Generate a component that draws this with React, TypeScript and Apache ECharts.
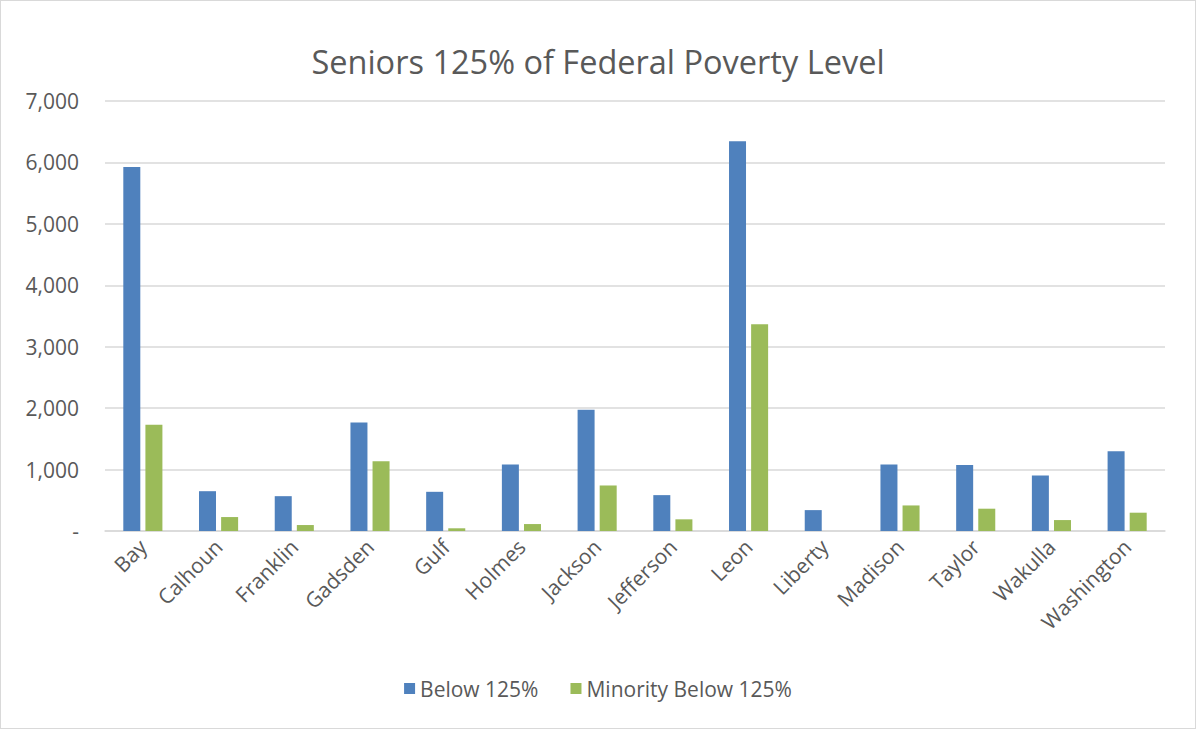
import React, { useEffect, useRef } from "react";
import * as echarts from "echarts";

const categories = ["Bay", "Calhoun", "Franklin", "Gadsden", "Gulf", "Holmes", "Jackson", "Jefferson", "Leon", "Liberty", "Madison", "Taylor", "Wakulla", "Washington"];
const below125 = [5926, 648, 567, 1767, 638, 1081, 1972, 584, 6345, 340, 1081, 1076, 903, 1297];
const minorityBelow125 = [1729, 227, 97, 1134, 44, 113, 741, 190, 3366, 0, 416, 363, 178, 298];
const seriesNames = ["Below 125%", "Minority Below 125%"];
const title = "Seniors 125% of Federal Poverty Level";

const FONT = "'Open Sans', 'Noto Sans', sans-serif";

export default function App() {
  const ref = useRef<HTMLDivElement>(null);
  useEffect(() => {
    if (!ref.current) return;
    const chart = echarts.init(ref.current, null, { renderer: "svg" });
    chart.setOption({
      animation: false,
      backgroundColor: "#ffffff",
      textStyle: { fontFamily: FONT },
      title: {
        text: title,
        left: "center",
        top: 39,
        textStyle: { fontSize: 32.5, fontWeight: "normal", color: "#595959", fontFamily: FONT },
      },
      grid: { left: 104, right: 30, top: 100, bottom: 197, containLabel: false },
      legend: {
        bottom: 24,
        left: "center",
        itemWidth: 11,
        itemHeight: 11,
        itemGap: 32,
        icon: "rect",
        textStyle: { fontSize: 21, color: "#595959", fontFamily: FONT },
        data: seriesNames,
      },
      xAxis: {
        type: "category",
        data: categories,
        axisLine: { lineStyle: { color: "#d9d9d9", width: 1.5 } },
        axisTick: { show: false },
        axisLabel: { rotate: 45, fontSize: 21, color: "#595959", margin: 12, interval: 0, fontFamily: FONT },
      },
      yAxis: {
        type: "value",
        min: 0,
        max: 7000,
        interval: 1000,
        axisLine: { show: false },
        axisTick: { show: false },
        splitLine: { lineStyle: { color: "#d9d9d9", width: 1.5 } },
        axisLabel: {
          fontSize: 21,
          color: "#595959",
          margin: 26,
          fontFamily: FONT,
          formatter: (v: number) => (v === 0 ? "-" : v.toLocaleString("en-US")),
        },
      },
      series: [
        {
          name: seriesNames[0],
          type: "bar",
          data: below125,
          barWidth: 17,
          barGap: "30%",
          itemStyle: { color: "#4f81bd" },
        },
        {
          name: seriesNames[1],
          type: "bar",
          data: minorityBelow125,
          barWidth: 17,
          itemStyle: { color: "#9bbb59" },
        },
      ],
    });
    return () => chart.dispose();
  }, []);
  return (
    <div
      style={{
        position: "fixed",
        left: 0,
        top: 0,
        width: 1196,
        height: 729,
        boxSizing: "border-box",
        border: "1px solid #d9d9d9",
        background: "#fff",
      }}
    >
      <div ref={ref} style={{ width: 1194, height: 727 }} />
    </div>
  );
}
